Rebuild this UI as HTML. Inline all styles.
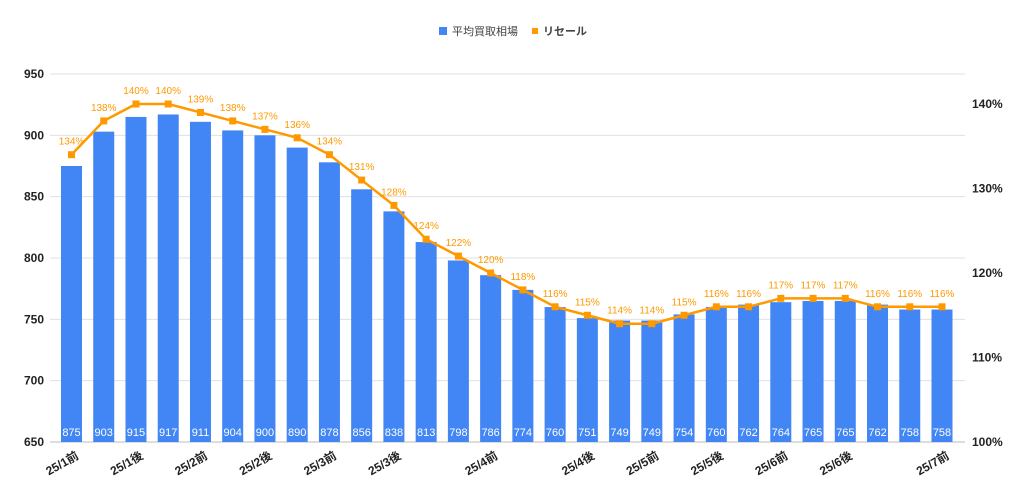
<!DOCTYPE html>
<html><head><meta charset="utf-8"><style>
body{margin:0;background:#fff;}
svg{display:block;font-family:"Liberation Sans","Noto Sans CJK JP",sans-serif;}
</style></head><body>
<svg id="c" width="1024" height="496"></svg>
<script>
const categories=["25/1前","","25/1後","","25/2前","","25/2後","","25/3前","","25/3後","","","25/4前","","","25/4後","","25/5前","","25/5後","","25/6前","","25/6後","","","25/7前"];
const barValues=[875,903,915,917,911,904,900,890,878,856,838,813,798,786,774,760,751,749,749,754,760,762,764,765,765,762,758,758];
const lineValues=[134,138,140,140,139,138,137,136,134,131,128,124,122,120,118,116,115,114,114,115,116,116,117,117,117,116,116,116];
const leftTicks=[650,700,750,800,850,900,950];
const rightTicks=[100,110,120,130,140];
const NS="http://www.w3.org/2000/svg";
const svg=document.getElementById('c');
function mk(t,a,p){const e=document.createElementNS(NS,t);for(const k in a)e.setAttribute(k,a[k]);(p||svg).appendChild(e);return e;}
const x0=71.5,step=(942-71.5)/27;
const xs=i=>x0+i*step;
const yL=v=>442-(v-650)*368/300;
const yR=v=>442-(v-100)*84.5/10;
// grid + left ticks
leftTicks.forEach(t=>{
 const g=mk('line',{x1:50,x2:965,y1:yL(t),y2:yL(t),stroke:t===650?'#bbb':'#e0e0e0','stroke-width':1});
 
 
 const l=mk('text',{x:44,y:yL(t)+4,'text-anchor':'end','font-size':12,'font-weight':'bold',fill:'#222'});
 l.textContent=t;
 
 
});
rightTicks.forEach(t=>{
 const l=mk('text',{x:972,y:yR(t)+4,'font-size':12,'font-weight':'bold',fill:'#222'});
 l.textContent=t+'%';
 
 
});
// bars
barValues.forEach((v,i)=>{
 const r=mk('rect',{x:xs(i)-10.5,y:yL(v),width:21,height:442-yL(v),fill:'#4285f4'});
 
 
 const t=mk('text',{x:xs(i),y:436,'text-anchor':'middle','font-size':11,fill:'#fff'});
 t.textContent=v;
 
 
});
// line
const pts=lineValues.map((v,i)=>xs(i)+','+yR(v)).join(' ');
const pl=mk('polyline',{points:pts,fill:'none',stroke:'#ff9900','stroke-width':2.5});


lineValues.forEach((v,i)=>{
 const m=mk('rect',{x:xs(i)-3.5,y:yR(v)-3.5,width:7,height:7,fill:'#ff9900'});
 
 
 const t=mk('text',{x:xs(i),y:yR(v)-10,'text-anchor':'middle','font-size':10,fill:'#ff9900'});
 t.textContent=v+'%';
 
 
});
// x labels
categories.forEach((c,i)=>{
 if(!c)return;
 const t=mk('text',{x:xs(i)+8,y:458,'text-anchor':'end','font-size':12,'font-weight':'bold',fill:'#222',transform:`rotate(-30 ${xs(i)+8} 458)`});
 t.textContent=c;
 
 
});
// legend
const lg=mk('g',{});


const s1=mk('rect',{x:439,y:27,width:8,height:8,fill:'#4285f4'},lg);


const t1=mk('text',{x:452,y:35,'font-size':11,fill:'#444'},lg);t1.textContent='平均買取相場';


const s2=mk('rect',{x:532,y:28,width:6,height:6,fill:'#ff9900'},lg);


const t2=mk('text',{x:543,y:35,'font-size':11,'font-weight':'bold',fill:'#444'},lg);t2.textContent='リセール';


</script>
</body></html>
